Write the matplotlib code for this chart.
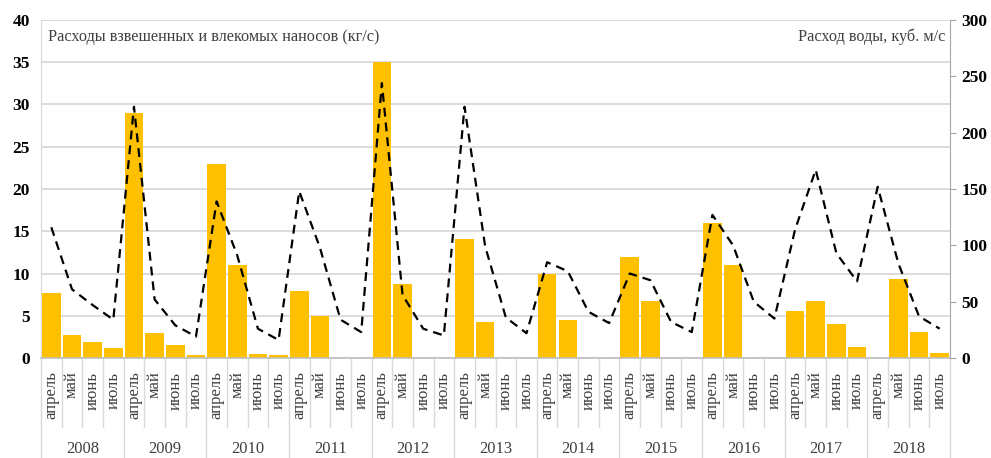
import numpy as np
import matplotlib.pyplot as plt
import matplotlib.transforms as mtransforms

years = ['2008', '2009', '2010', '2011', '2012', '2013', '2014', '2015', '2016', '2017', '2018']
months = ['апрель', 'май', 'июнь', 'июль']

# расходы наносов, кг/с (левая ось)
sediment = [7.7, 2.7, 1.9, 1.2,
            29.0, 3.0, 1.5, 0.3,
            23.0, 11.0, 0.5, 0.4,
            7.9, 5.0, 0.0, 0.0,
            35.0, 8.7, 0.0, 0.0,
            14.1, 4.3, 0.0, 0.0,
            10.0, 4.5, 0.0, 0.0,
            12.0, 6.8, 0.0, 0.0,
            16.0, 11.0, 0.0, 0.0,
            5.6, 6.7, 4.0, 1.3,
            0.0, 9.4, 3.1, 0.6]

# расход воды, куб. м/с (правая ось)
flow = [116, 61, 47, 34,
        223, 52, 29, 19,
        139, 91, 26, 16,
        148, 98, 34, 23,
        244, 56, 26, 20,
        223, 99, 36, 22,
        85, 77, 41, 31,
        75, 69, 32, 23,
        127, 100, 50, 35,
        114, 167, 93, 68,
        152, 84, 37, 26]

plt.rcParams['font.family'] = ['Liberation Serif', 'DejaVu Serif']

n = len(sediment)
x = np.arange(n)

fig = plt.figure(figsize=(9.91, 4.58), dpi=100)
ax = fig.add_axes([41/991, 100/458, 909/991, 338/458])
ax.bar(x, sediment, width=0.9, color='#FFC000', zorder=2)
ax.set_xlim(-0.5, n - 0.5)
ax.set_ylim(0, 40)
ax.set_yticks(np.arange(0, 41, 5))
ax.yaxis.grid(True, color='#d9d9d9', lw=1.3, zorder=0)
ax.set_axisbelow(True)
ax.tick_params(axis='y', length=0, pad=8, labelsize=12.5)
for lab in ax.get_yticklabels():
    lab.set_fontweight('bold')
ax.set_xticks([])
for s in ['top', 'right', 'bottom']:
    ax.spines[s].set_visible(False)
ax.spines['left'].set_color('#d9d9d9')

ax2 = ax.twinx()
ax2.plot(x, flow, color='black', ls=(0, (4, 2.7)), lw=1.6, zorder=3)
ax2.set_ylim(0, 300)
ax2.set_yticks(np.arange(0, 301, 50))
ax2.tick_params(axis='y', length=4, color='#a6a6a6', pad=4, labelsize=12.5)
for lab in ax2.get_yticklabels():
    lab.set_fontweight('bold')
for s in ['top', 'left', 'bottom']:
    ax2.spines[s].set_visible(False)
ax2.spines['right'].set_color('#a6a6a6')

# нижняя ось категорий: месяцы и годы
trans = mtransforms.blended_transform_factory(ax.transData, ax.transAxes)
ax.plot([-0.5, n - 0.5], [0, 0], transform=trans, color='#bfbfbf', lw=1.2, clip_on=False, zorder=4)
for i in range(n + 1):
    bottom = -0.32 if i % 4 == 0 else -0.205
    ax.plot([i - 0.5, i - 0.5], [0, bottom], transform=trans, color='#d9d9d9', lw=1, clip_on=False)
for i in range(n):
    ax.text(i, -0.04, months[i % 4], transform=trans, rotation=90, ha='center', va='top',
            fontsize=12, color='#404040')
for j, y in enumerate(years):
    ax.text(4 * j + 1.5, -0.27, y, transform=trans, ha='center', va='center',
            fontsize=12, color='#404040')

ax.text(0.008, 0.95, 'Расходы взвешенных и влекомых наносов (кг/с)', transform=ax.transAxes,
        ha='left', va='center', fontsize=11.7, color='#404040')
ax.text(0.995, 0.95, 'Расход воды, куб. м/с', transform=ax.transAxes,
        ha='right', va='center', fontsize=11.7, color='#404040')

fig.savefig('out.png', dpi=100)
